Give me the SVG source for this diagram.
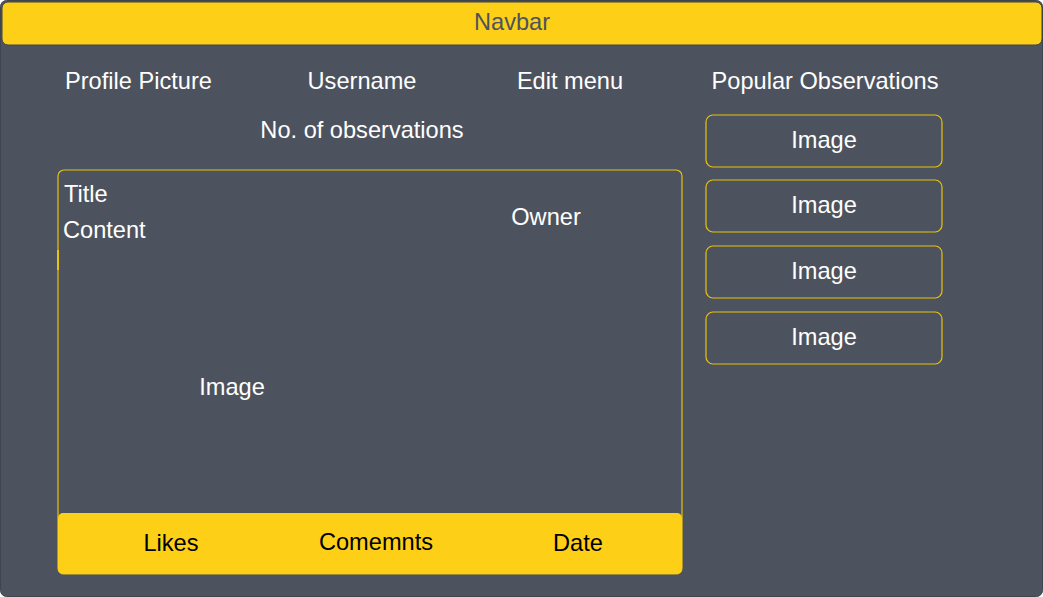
<svg xmlns="http://www.w3.org/2000/svg" width="1043" height="597" viewBox="0 0 1043 597">
<style>
.t{font-family:"Liberation Sans",Arial,sans-serif;font-size:23.6px;fill:#ffffff}
.d{fill:#000000}
.c{text-anchor:middle}
.box{fill:none;stroke:#e8c20f;stroke-width:1.2}
</style>
<rect width="1043" height="597" fill="#ffffff"/>
<g id="frame">
<rect x="0.5" y="0.5" width="1042" height="596" rx="6" fill="#4d535e" stroke="#3f444d" stroke-width="1"/>
</g>
<g id="navbar">
<rect x="2" y="2" width="1040" height="43" rx="6" fill="#fdd017" stroke="#3f444d" stroke-width="1"/>
<text class="t c" x="512" y="30" style="fill:#4d535e">Navbar</text>
</g>
<g id="header">
<text class="t" x="65" y="89">Profile Picture</text>
<text class="t c" x="362" y="89">Username</text>
<text class="t c" x="570" y="89">Edit menu</text>
<text class="t c" x="825" y="89">Popular Observations</text>
<text class="t c" x="362" y="138">No. of observations</text>
</g>
<g id="post">
<rect class="box" x="58" y="170" width="624" height="404" rx="6"/>
<line x1="58" y1="250" x2="58" y2="270" stroke="#e8c20f" stroke-width="2"/>
<text class="t" x="64" y="202">Title</text>
<text class="t" x="63" y="238">Content</text>
<text class="t c" x="546" y="225">Owner</text>
<text class="t c" x="232" y="395">Image</text>
</g>
<g id="footer">
<rect x="58" y="513" width="624" height="61" rx="5" fill="#fdd017"/>
<text class="t d c" x="171" y="551">Likes</text>
<text class="t d c" x="376" y="550">Comemnts</text>
<text class="t d c" x="578" y="551">Date</text>
</g>
<g id="popular1">
<rect class="box" x="706" y="115" width="236" height="52" rx="7"/>
<text class="t c" x="824" y="148">Image</text>
</g>
<g id="popular2">
<rect class="box" x="706" y="180" width="236" height="52" rx="7"/>
<text class="t c" x="824" y="213">Image</text>
</g>
<g id="popular3">
<rect class="box" x="706" y="246" width="236" height="52" rx="7"/>
<text class="t c" x="824" y="279">Image</text>
</g>
<g id="popular4">
<rect class="box" x="706" y="312" width="236" height="52" rx="7"/>
<text class="t c" x="824" y="345">Image</text>
</g>
<g id="connectors"></g>
</svg>
